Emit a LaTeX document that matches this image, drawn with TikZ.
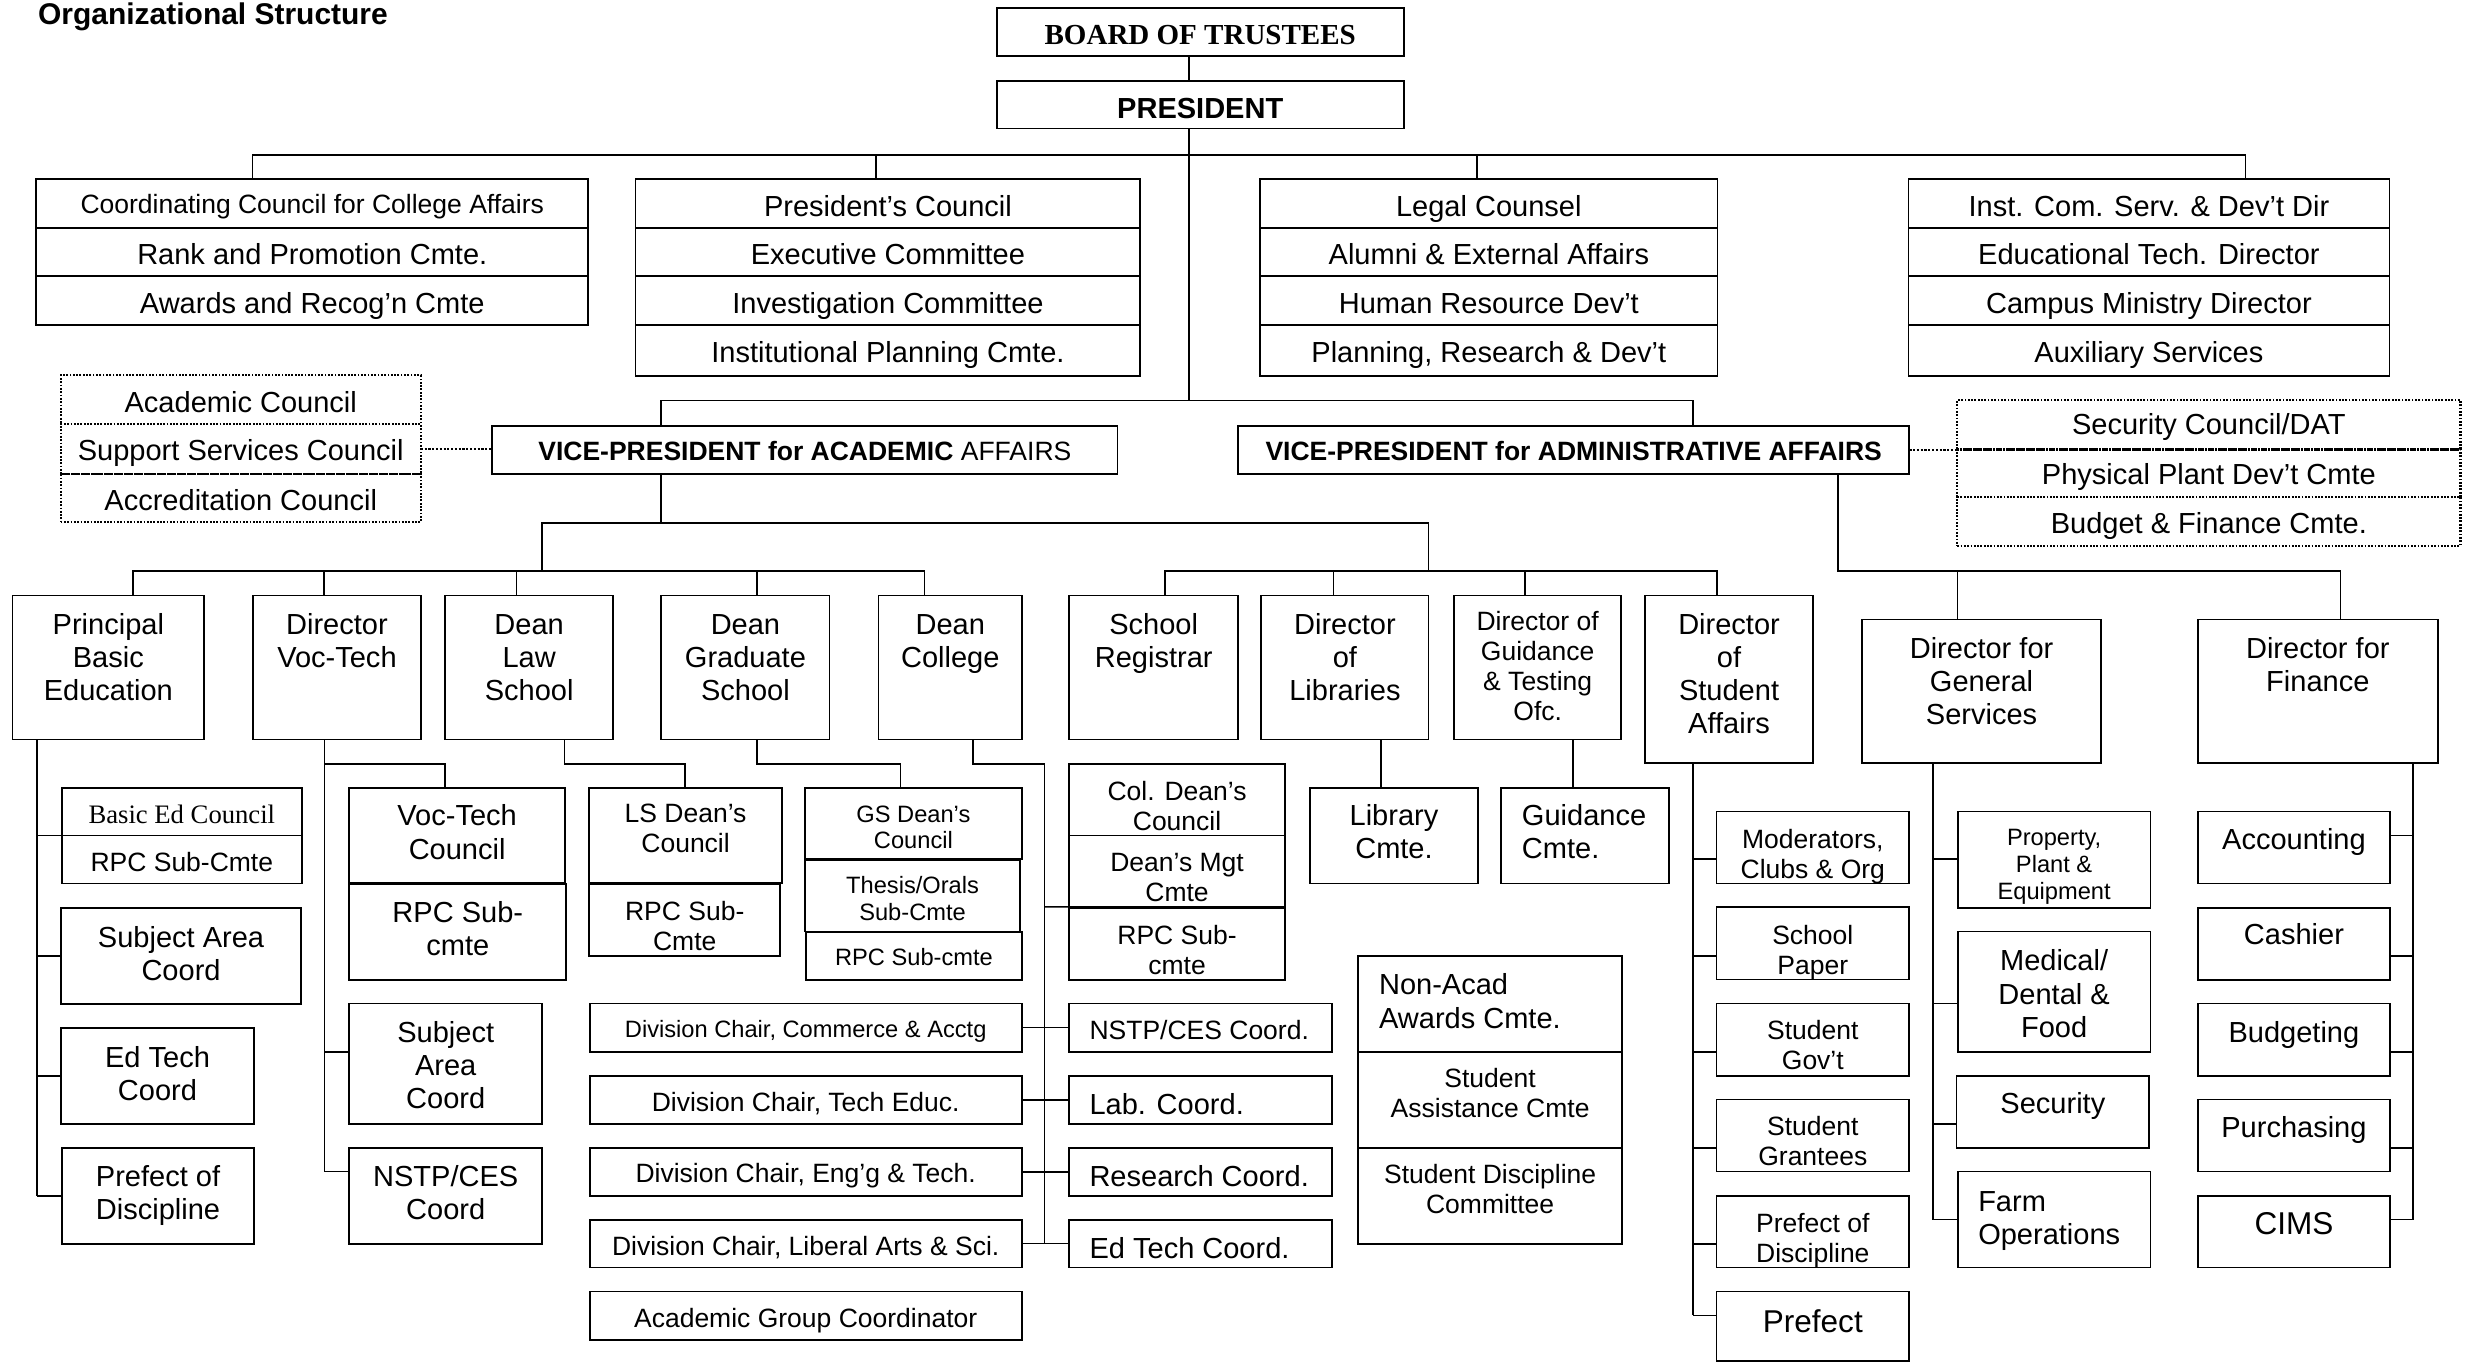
\documentclass[tikz,border=0pt]{standalone}
\usepackage{fontspec}
\setmainfont{Liberation Sans}
\newfontfamily\tnr{Liberation Serif}
\newcommand\fA{\fontsize{18.4}{21}\selectfont}
\newcommand\fB{\fontsize{16.8}{19}\selectfont}
\newcommand\fC{\fontsize{15}{17}\selectfont}
\newcommand\fE{\fontsize{20}{23}\selectfont}
\newcommand\fT{\tnr\fontsize{16.9}{19}\selectfont}
\def\balign{\centering}
\tikzset{
  bx/.style={draw, line width=1.1pt, inner sep=0pt, outer sep=0pt, rectangle, font=\fA},
  dbx/.style={densely dotted, line width=1.4pt},
  lft/.code={\def\balign{\raggedright\leftskip=#1pt\relax}},
  ln/.style={line width=1pt},
  dln/.style={densely dotted, line width=1.4pt},
}
% \B[style]{name}{x1}{y1}{x2}{y2}{first baseline offset}{text}
\newcommand\B[8][]{\node[bx,#1] (#2) at ({(#3+#5)/2},{(#4+#6)/2}) {\parbox[c][\dimexpr#6pt-#4pt\relax][t]{\dimexpr#5pt-#3pt\relax}{\balign\rule{0pt}{#7pt}#8\par}};}
\begin{document}
\begin{tikzpicture}[x=1pt,y=-1pt]
\useasboundingbox (0,0) rectangle (1568,864);
\fill[white] (0,0) rectangle (1568,864);
\node[anchor=base west, inner sep=0pt, font=\bfseries\fontsize{19}{23}\selectfont] (title) at (24,15.5) {Organizational Structure};

% top
\B[font=\tnr\bfseries\fontsize{18.4}{21}\selectfont]{bot}{632}{5}{890}{35.5}{23.5}{BOARD OF TRUSTEES}
\B[font=\bfseries\fA]{pres}{632}{51.5}{890}{81.5}{23.6}{PRESIDENT}

% staff stacks
\B[font=\fB]{cc1}{23}{113.5}{373}{144.4}{22}{Coordinating Council for College Affairs}
\B{cc2}{23}{144.4}{373}{175.2}{23.5}{Rank and Promotion Cmte.}
\B{cc3}{23}{175.2}{373}{206}{23.5}{Awards and Recog’n Cmte}
\B{pc1}{403}{113.5}{723}{144.4}{23.5}{President’s Council}
\B{pc2}{403}{144.4}{723}{175.2}{23.5}{Executive Committee}
\B{pc3}{403}{175.2}{723}{206}{23.5}{Investigation Committee}
\B{pc4}{403}{206}{723}{238.2}{24}{Institutional Planning Cmte.}
\B{lc1}{799}{113.5}{1089}{144.4}{23.5}{Legal Counsel}
\B{lc2}{799}{144.4}{1089}{175.2}{23.5}{Alumni \& External Affairs}
\B{lc3}{799}{175.2}{1089}{206}{23.5}{Human Resource Dev’t}
\B{lc4}{799}{206}{1089}{238.2}{24}{Planning, Research \& Dev’t}
\B{ic1}{1210}{113.5}{1515}{144.4}{23.5}{Inst. Com. Serv. \& Dev’t Dir}
\B{ic2}{1210}{144.4}{1515}{175.2}{23.5}{Educational Tech. Director}
\B{ic3}{1210}{175.2}{1515}{206}{23.5}{Campus Ministry Director}
\B{ic4}{1210}{206}{1515}{238.2}{24}{Auxiliary Services}

% councils (dotted)
\B[dbx]{dAC}{38.5}{238}{266.8}{269}{23.5}{Academic Council}
\B[dbx]{dSS}{38.5}{269}{266.8}{300.6}{22.7}{Support Services Council}
\B[dbx]{dAR}{38.5}{300.6}{266.8}{331}{22.8}{Accreditation Council}
\B[dbx]{rSC}{1241}{253.7}{1560}{285}{21.5}{Security Council/DAT}
\B[dbx]{rPP}{1241}{285}{1560}{315.2}{22}{Physical Plant Dev’t Cmte}
\B[dbx]{rBF}{1241}{315.2}{1560}{346}{23}{Budget \& Finance Cmte.}

% vice presidents
\B[font=\fB]{vpa}{312}{270}{708.6}{300.6}{21.7}{\textbf{VICE-PRESIDENT for ACADEMIC} AFFAIRS}
\B[font=\fB\bfseries]{vpd}{785}{270}{1210.6}{300.6}{21.7}{VICE-PRESIDENT for ADMINISTRATIVE AFFAIRS}

% directors row
\B{pbe}{8}{377.5}{129.4}{468.9}{24.5}{Principal\\Basic\\Education}
\B{dvt}{160.5}{377.5}{266.8}{468.9}{24.5}{Director\\Voc-Tech}
\B{dls}{282.3}{377.5}{388.7}{468.9}{24.5}{Dean\\Law\\School}
\B{dgs}{419.3}{377.5}{526}{468.9}{24.5}{Dean\\Graduate\\School}
\B{dco}{557}{377.5}{648}{468.9}{24.5}{Dean\\College}
\B{sreg}{678}{377.5}{785}{468.9}{24.5}{School\\Registrar}
\B{dlib}{799.7}{377.5}{905.8}{468.9}{24.5}{Director\\of\\Libraries}
\B[font=\fB]{dgt}{921.9}{377.5}{1028}{468.9}{22.3}{Director of\\Guidance\\\& Testing\\Ofc.}
\B{dsa}{1043}{377.5}{1149.6}{484}{24.5}{Director\\of\\Student\\Affairs}
\B{dgsv}{1180.8}{392.8}{1332}{484}{24.8}{Director for\\General\\Services}
\B{dfin}{1393.5}{392.8}{1545.7}{484}{24.8}{Director for\\Finance}

% basic education
\B[font=\fT]{bec}{39.3}{499.4}{191.3}{529.7}{22.7}{Basic Ed Council}
\B[font=\fB]{brpc}{39.3}{529.7}{191.3}{560.1}{22.7}{RPC Sub-Cmte}
\B{bsac}{38.6}{575.5}{191}{636.5}{25}{Subject Area\\Coord}
\B{betc}{38.6}{651.6}{161.1}{712.6}{25}{Ed Tech\\Coord}
\B{bpod}{39.3}{727.7}{161.1}{788.7}{24.5}{Prefect of\\Discipline}
% voc-tech
\B{vtc}{221.5}{499.4}{358.2}{560}{24.3}{Voc-Tech\\Council}
\B{vrpc}{221.5}{560.4}{359}{621.4}{24.2}{RPC Sub-\\cmte}
\B{vsac}{221.5}{636.2}{343.7}{712.6}{24.8}{Subject\\Area\\Coord}
\B{vnstp}{221.5}{727.7}{343.7}{788.7}{24.5}{NSTP/CES\\Coord}
% law
\B[font=\fB]{lsdc}{373.6}{499.4}{495.8}{560}{22.4}{LS Dean’s\\Council}
\B[font=\fB]{lsrpc}{373.6}{560.4}{494.7}{606}{23}{RPC Sub-\\Cmte}
% graduate
\B[font=\fC]{gsdc}{510.5}{499.4}{647.8}{544.8}{21.8}{GS Dean’s\\Council}
\B[font=\fC]{gsto}{510.5}{545.3}{646.7}{590.6}{21.3}{Thesis/Orals\\Sub-Cmte}
\B[font=\fC]{gsrpc}{511.2}{591.1}{647.8}{621.4}{20.8}{RPC Sub-cmte}
% college
\B[font=\fB]{cdc}{678}{484.3}{814.6}{529.7}{23.2}{Col. Dean’s\\Council}
\B[font=\fB]{cdm}{678}{529.7}{814.6}{575}{23.1}{Dean’s Mgt\\Cmte}
\B[font=\fB]{crpc}{678}{575.5}{814.6}{621.4}{23.2}{RPC Sub-\\cmte}
\B[font=\fC]{dc1}{373.9}{636.2}{647.8}{667}{21.6}{Division Chair, Commerce \& Acctg}
\B[font=\fB]{dc2}{373.9}{682}{647.8}{712.6}{22.5}{Division Chair, Tech Educ.}
\B[font=\fB]{dc3}{373.9}{727.7}{647.8}{758.2}{22.1}{Division Chair, Eng’g \& Tech.}
\B[font=\fB]{dc4}{373.9}{773.3}{647.8}{803.7}{22.7}{Division Chair, Liberal Arts \& Sci.}
\B[font=\fB]{agc}{373.9}{818.8}{647.8}{849.4}{23}{Academic Group Coordinator}
\B[font=\fB,lft=12.8]{nstp}{678}{636.2}{844.5}{667}{22.6}{NSTP/CES Coord.}
\B[lft=12.8]{lab}{678}{682}{844.5}{712.6}{24.4}{Lab. Coord.}
\B[lft=12.8]{res}{678}{727.7}{844.5}{758.2}{24.5}{Research Coord.}
\B[lft=12.8]{etcr}{678}{773.3}{844.5}{803.7}{24.5}{Ed Tech Coord.}
% libraries, guidance
\B{libc}{830.5}{499.4}{937.2}{560.2}{24.2}{Library\\Cmte.}
\B[lft=13.3]{guic}{951.7}{499.4}{1058.4}{560.2}{24.2}{Guidance\\Cmte.}
\B[lft=13.4]{nac}{861}{606}{1028.6}{667}{24.8}{Non-Acad\\Awards Cmte.}
\B[font=\fB]{sacm}{861}{667}{1028.6}{727.7}{22.4}{Student\\Assistance Cmte}
\B[font=\fB]{sdc}{861}{727.7}{1028.6}{788.7}{22.9}{Student Discipline\\Committee}
% student affairs
\B[font=\fB]{mod}{1088.4}{514.6}{1210.4}{560.2}{23.1}{Moderators,\\Clubs \& Org}
\B[font=\fB]{spap}{1088.4}{575.3}{1210.4}{621.1}{23.4}{School\\Paper}
\B[font=\fB]{sgov}{1088.4}{636.2}{1210.4}{682}{23}{Student\\Gov’t}
\B[font=\fB]{sgr}{1088.4}{697.2}{1210.4}{742.8}{23}{Student\\Grantees}
\B[font=\fB]{spod}{1088.4}{758.2}{1210.4}{803.7}{23}{Prefect of\\Discipline}
\B[font=\fE]{pref}{1088.4}{818.9}{1210.4}{863}{25.7}{Prefect}
% general services
\B[font=\fC]{ppe}{1241.3}{514.6}{1363.5}{575.5}{21.7}{Property,\\Plant \&\\Equipment}
\B{med}{1241.3}{590.6}{1363.5}{667}{25}{Medical/\\Dental \&\\Food}
\B{sec}{1240.5}{682}{1362.7}{727.7}{24}{Security}
\B[lft=13]{farm}{1241.3}{742.8}{1363.5}{803.7}{25.2}{Farm\\Operations}
% finance
\B{acc}{1393.4}{514.6}{1515.5}{560.2}{24}{Accounting}
\B{cash}{1393.4}{575.5}{1515.5}{621.4}{23.5}{Cashier}
\B{bud}{1393.4}{636.2}{1515.5}{682}{24.5}{Budgeting}
\B{pur}{1393.4}{697.2}{1515.5}{742.8}{24}{Purchasing}
\B[font=\fE]{cims}{1393.4}{758.2}{1515.5}{803.7}{24.6}{CIMS}

% ---------- connectors ----------
\coordinate (trunk) at (754,254);
\coordinate (tb1) at (160,98.3);
\coordinate (tb2) at (555.6,98.3);
\coordinate (tb3) at (936.6,98.3);
\coordinate (tb4) at (1423.6,98.3);
\draw[ln] (bot.south -| trunk) -- (pres.north -| trunk);
\draw[ln] (pres.south -| trunk) -- (trunk);
\draw[ln] (cc1.north -| tb1) -- (tb1) -- (tb4) -- (ic1.north -| tb4);
\draw[ln] (tb2) -- (pc1.north -| tb2);
\draw[ln] (tb3) -- (lc1.north -| tb3);

\coordinate (vb1) at (419,254);
\coordinate (vb2) at (1073.6,254);
\draw[ln] (vpa.north -| vb1) -- (vb1) -- (vb2) -- (vpd.north -| vb2);
\draw[dln] (dSS.east) -- (vpa.west |- dSS.east);
\draw[dln] (vpd.east) -- (vpd.east -| rPP.west);

% academic tree
\coordinate (va) at (419,331.5);
\draw[ln] (vpa.south -| va) -- (va);
\draw[ln] (343.5,362) -- (343.5,331.5) -- (905.7,331.5) -- (905.7,362);
\draw[ln] (pbe.north -| 84.3,0) -- (84.3,362) -- (586.3,362) -- (dco.north -| 586.3,0);
\foreach \n/\x in {dvt/205.6, dls/327.5, dgs/480} \draw[ln] (\x,362) -- (\n.north -| \x,0);
\draw[ln] (sreg.north -| 738.8,0) -- (738.8,362) -- (1088.8,362) -- (dsa.north -| 1088.8,0);
\draw[ln] (845.5,362) -- (dlib.north -| 845.5,0);
\draw[ln] (967,362) -- (dgt.north -| 967,0);

% administrative tree
\draw[ln] (vpd.south -| 1165.2,0) -- (1165.2,362) -- (1484,362) -- (dfin.north -| 1484,0);
\draw[ln] (1241,362) -- (dgsv.north -| 1241,0);

% basic education
\draw[ln] (pbe.south -| 23.5,0) -- (23.5,758.2);
\foreach \n/\y in {bec/529.7, bsac/606, betc/682.1, bpod/758.2} \draw[ln] (23.5,\y) -- (\n.west |- 0,\y);
% voc-tech
\draw[ln] (dvt.south -| 205.8,0) -- (205.8,742.8);
\draw[ln] (205.8,484.3) -- (282,484.3) -- (vtc.north -| 282,0);
\foreach \n/\y in {vsac/667, vnstp/742.8} \draw[ln] (205.8,\y) -- (\n.west |- 0,\y);
% law
\draw[ln] (dls.south -| 358,0) -- (358,484.3) -- (434.4,484.3) -- (lsdc.north -| 434.4,0);
% graduate
\draw[ln] (dgs.south -| 480,0) -- (480,484.3) -- (570.9,484.3) -- (gsdc.north -| 570.9,0);
% college
\draw[ln] (dco.south -| 616.9,0) -- (616.9,484.3) -- (662.2,484.3) -- (662.2,788.5);
\draw[ln] (662.2,575) -- (cdm.south west);
\foreach \l/\r/\y in {dc1/nstp/651.6, dc2/lab/697.3, dc3/res/743, dc4/etcr/788.5} \draw[ln] (\l.east |- 0,\y) -- (\r.west |- 0,\y);
% libraries, guidance
\draw[ln] (dlib.south -| 875.5,0) -- (libc.north -| 875.5,0);
\draw[ln] (dgt.south -| 997.2,0) -- (guic.north -| 997.2,0);
% student affairs
\draw[ln] (dsa.south -| 1073.4,0) -- (1073.4,834);
\foreach \n/\y in {mod/544.8, spap/606, sgov/667, sgr/727.7, spod/788.7, pref/834} \draw[ln] (1073.4,\y) -- (\n.west |- 0,\y);
% general services
\draw[ln] (dgsv.south -| 1225.6,0) -- (1225.6,773.3);
\foreach \n/\y in {ppe/544.8, med/636.2, sec/712.6, farm/773.3} \draw[ln] (1225.6,\y) -- (\n.west |- 0,\y);
% finance
\draw[ln] (dfin.south -| 1530,0) -- (1530,773.3);
\foreach \n/\y in {acc/529.7, cash/606, bud/667, pur/727.7, cims/773.3} \draw[ln] (\n.east |- 0,\y) -- (1530,\y);
\end{tikzpicture}
\end{document}
